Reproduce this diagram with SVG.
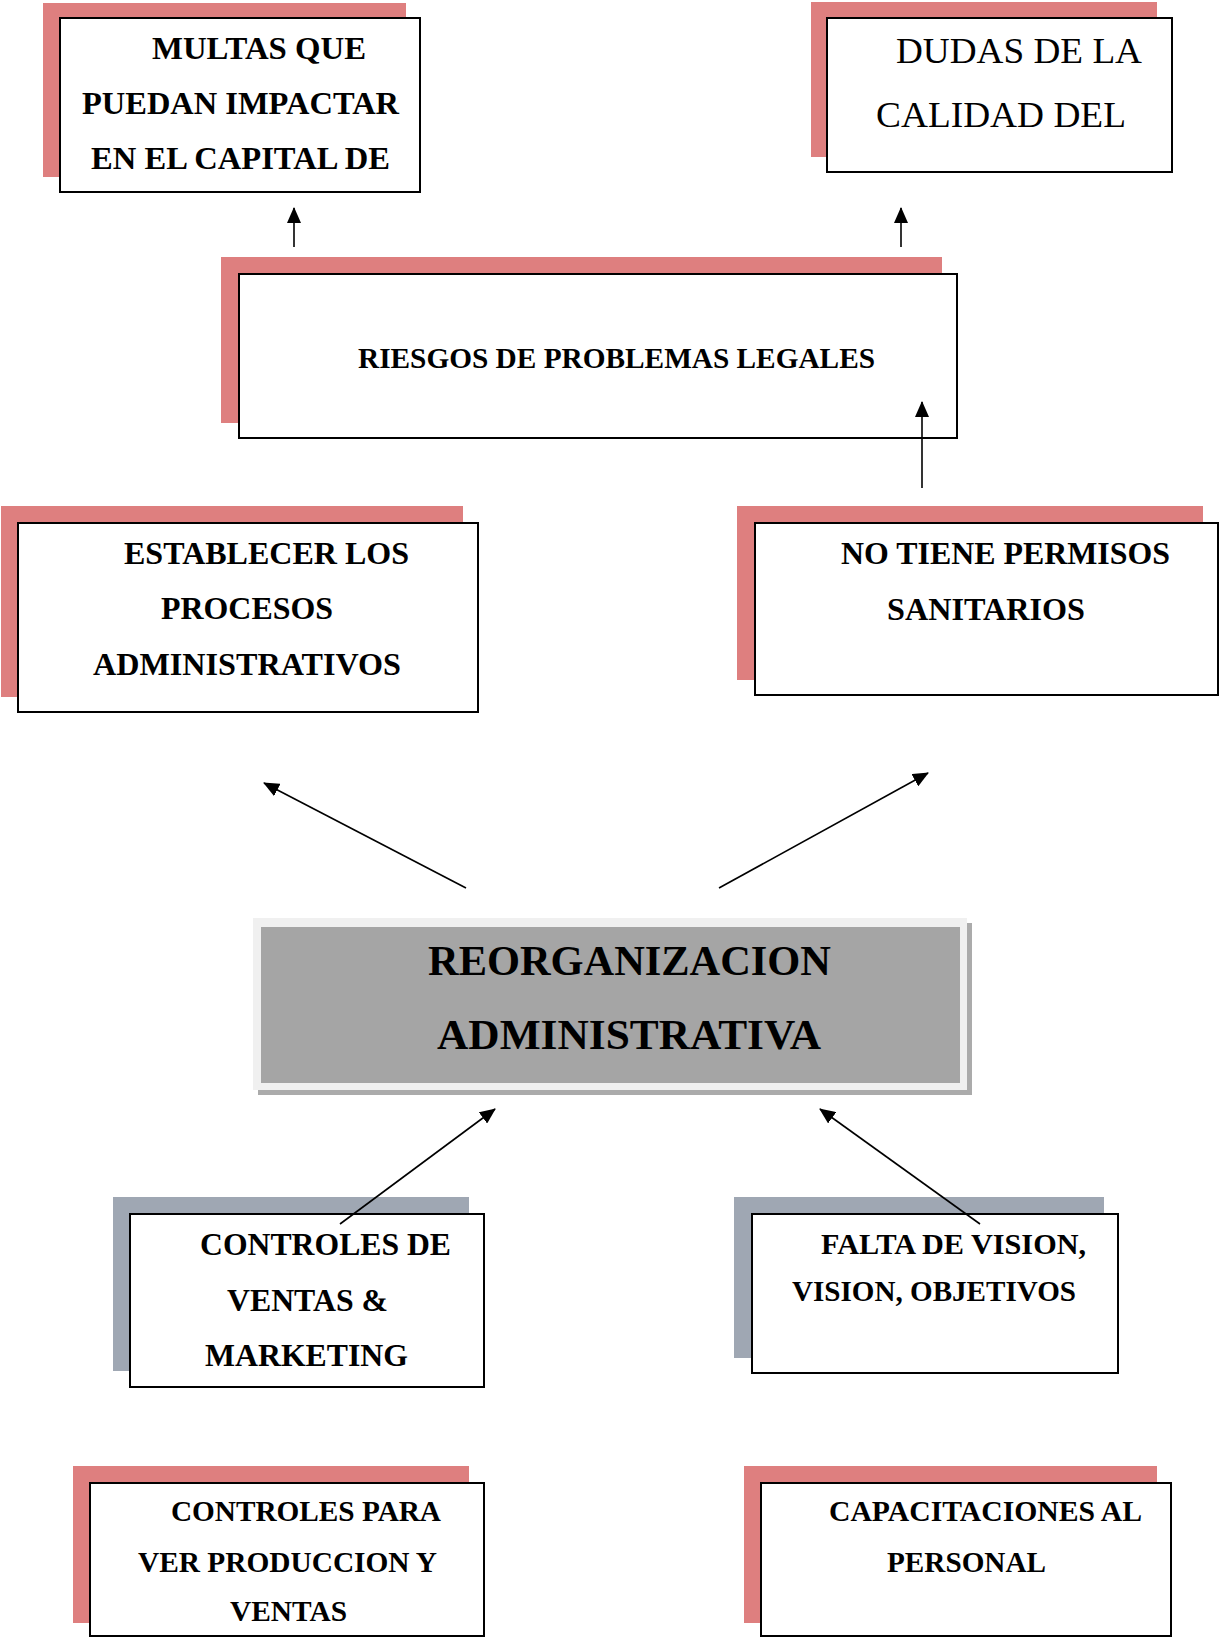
<svg xmlns="http://www.w3.org/2000/svg" width="1220" height="1638" viewBox="0 0 1220 1638">
<style>
.sh{fill:#de7f7f}
.shb{fill:#9fa7b3}
.bx{fill:#fff;stroke:#000;stroke-width:2}
.t{font-family:"Liberation Serif","Times New Roman",serif;font-weight:bold;fill:#000}
.r{font-family:"Liberation Serif","Times New Roman",serif;font-weight:normal;fill:#000}
.c{stroke:#000;stroke-width:1.6;fill:none;marker-end:url(#ah)}
</style>
<defs>
<marker id="ah" markerUnits="userSpaceOnUse" markerWidth="16" markerHeight="14" refX="15" refY="7" orient="auto" viewBox="0 0 16 14">
<path d="M0,0 L16,7 L0,14 Z" fill="#000"/>
</marker>
</defs>
<rect width="1220" height="1638" fill="#fff"/>

<g id="n-multas">
<rect class="sh" x="43" y="3" width="363" height="174"/>
<rect class="bx" x="60" y="18" width="360" height="174"/>
<text class="t" font-size="32"><tspan x="152" y="59" textLength="214" lengthAdjust="spacingAndGlyphs">MULTAS QUE</tspan><tspan x="82" y="114" textLength="317" lengthAdjust="spacingAndGlyphs">PUEDAN IMPACTAR</tspan><tspan x="91" y="169" textLength="299" lengthAdjust="spacingAndGlyphs">EN EL CAPITAL DE</tspan></text>
</g>

<g id="n-dudas">
<rect class="sh" x="811" y="2" width="346" height="155"/>
<rect class="bx" x="827" y="18" width="345" height="154"/>
<text class="r" font-size="36"><tspan x="896" y="63" textLength="246" lengthAdjust="spacingAndGlyphs">DUDAS DE LA</tspan><tspan x="876" y="127" textLength="250" lengthAdjust="spacingAndGlyphs">CALIDAD DEL</tspan></text>
</g>

<g id="n-riesgos">
<rect class="sh" x="221" y="257" width="721" height="166"/>
<rect class="bx" x="239" y="274" width="718" height="164"/>
<text class="t" font-size="29" x="358" y="368" textLength="517" lengthAdjust="spacingAndGlyphs">RIESGOS DE PROBLEMAS LEGALES</text>
</g>

<g id="n-establecer">
<rect class="sh" x="1" y="506" width="462" height="191"/>
<rect class="bx" x="18" y="523" width="460" height="189"/>
<text class="t" font-size="32"><tspan x="124" y="564" textLength="285" lengthAdjust="spacingAndGlyphs">ESTABLECER LOS</tspan><tspan x="161" y="619" textLength="172" lengthAdjust="spacingAndGlyphs">PROCESOS</tspan><tspan x="93" y="675" textLength="308" lengthAdjust="spacingAndGlyphs">ADMINISTRATIVOS</tspan></text>
</g>

<g id="n-permisos">
<rect class="sh" x="737" y="506" width="466" height="174"/>
<rect class="bx" x="755" y="523" width="463" height="172"/>
<text class="t" font-size="32"><tspan x="841" y="564" textLength="329" lengthAdjust="spacingAndGlyphs">NO TIENE PERMISOS</tspan><tspan x="887" y="620" textLength="198" lengthAdjust="spacingAndGlyphs">SANITARIOS</tspan></text>
</g>

<g id="n-reorganizacion">
<rect x="258" y="923" width="714" height="172" fill="#ababab"/>
<rect x="253" y="918" width="714" height="172" fill="#f0f0f0"/>
<rect x="261" y="927" width="699" height="156" fill="#a5a5a5"/>
<text class="t" font-size="42"><tspan x="428" y="975" textLength="403" lengthAdjust="spacingAndGlyphs">REORGANIZACION</tspan><tspan x="437" y="1049" textLength="384" lengthAdjust="spacingAndGlyphs">ADMINISTRATIVA</tspan></text>
</g>

<g id="n-ventas">
<rect class="shb" x="113" y="1197" width="356" height="174"/>
<rect class="bx" x="130" y="1214" width="354" height="173"/>
<text class="t" font-size="32"><tspan x="200" y="1255" textLength="251" lengthAdjust="spacingAndGlyphs">CONTROLES DE</tspan><tspan x="227" y="1311" textLength="161" lengthAdjust="spacingAndGlyphs">VENTAS &amp;</tspan><tspan x="205" y="1366" textLength="203" lengthAdjust="spacingAndGlyphs">MARKETING</tspan></text>
</g>

<g id="n-vision">
<rect class="shb" x="734" y="1197" width="370" height="161"/>
<rect class="bx" x="752" y="1214" width="366" height="159"/>
<text class="t" font-size="29"><tspan x="821" y="1254" textLength="265" lengthAdjust="spacingAndGlyphs">FALTA DE VISION,</tspan><tspan x="792" y="1301" textLength="284" lengthAdjust="spacingAndGlyphs">VISION, OBJETIVOS</tspan></text>
</g>

<g id="n-produccion">
<rect class="sh" x="73" y="1466" width="396" height="157"/>
<rect class="bx" x="90" y="1483" width="394" height="153"/>
<text class="t" font-size="29"><tspan x="171" y="1521" textLength="270" lengthAdjust="spacingAndGlyphs">CONTROLES PARA</tspan><tspan x="138" y="1572" textLength="299" lengthAdjust="spacingAndGlyphs">VER PRODUCCION Y</tspan><tspan x="230" y="1621" textLength="117" lengthAdjust="spacingAndGlyphs">VENTAS</tspan></text>
</g>

<g id="n-capacitaciones">
<rect class="sh" x="744" y="1466" width="413" height="157"/>
<rect class="bx" x="761" y="1483" width="410" height="153"/>
<text class="t" font-size="29"><tspan x="829" y="1521" textLength="313" lengthAdjust="spacingAndGlyphs">CAPACITACIONES AL</tspan><tspan x="887" y="1572" textLength="159" lengthAdjust="spacingAndGlyphs">PERSONAL</tspan></text>
</g>

<g id="connectors">
<line class="c" x1="294" y1="247" x2="294" y2="208"/>
<line class="c" x1="901" y1="247" x2="901" y2="208"/>
<line class="c" x1="922" y1="488" x2="922" y2="402"/>
<line class="c" x1="466" y1="888" x2="264" y2="783"/>
<line class="c" x1="719" y1="888" x2="928" y2="773"/>
<line class="c" x1="340" y1="1224" x2="495" y2="1109"/>
<line class="c" x1="980" y1="1224" x2="820" y2="1109"/>
</g>
</svg>
